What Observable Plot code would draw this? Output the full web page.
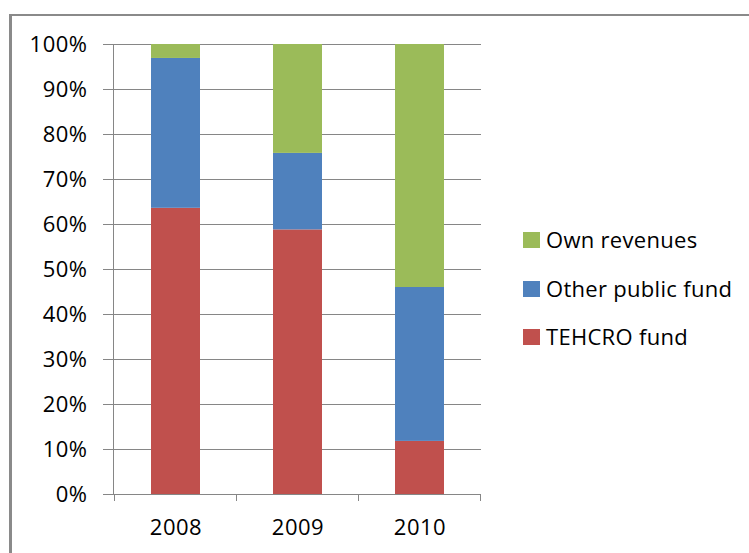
<!DOCTYPE html>
<html>
<head>
<meta charset="utf-8">
<script src="https://cdn.jsdelivr.net/npm/d3@7"></script>
<script src="https://cdn.jsdelivr.net/npm/@observablehq/plot@0.6"></script>
<style>
  html, body { margin: 0; padding: 0; background: #fff; }
  body { width: 749px; height: 553px; position: relative; overflow: hidden; font-family: "Open Sans", "Liberation Sans", sans-serif; }
  #frame { position: absolute; left: 9px; top: 14px; width: 800px; height: 600px; border: 3px solid #8a8a8a; border-width: 2px 0 0 3px; box-sizing: border-box; }
  #chart { position: absolute; left: 0; top: 0; }
  #legend { position: absolute; left: 523px; top: 216px; font-size: 22px; letter-spacing: 0.3px; color: #000; }
  .item { display: flex; align-items: center; height: 48.5px; white-space: nowrap; }
  .sw { width: 17px; height: 16px; margin-right: 6px; flex: none; }
  .item span { line-height: 22px; position: relative; top: -1px; }
</style>
</head>
<body>
<div id="frame"></div>
<div id="chart"></div>
<div id="legend"></div>
<script>
const years = ["2008", "2009", "2010"];
const series = ["TEHCRO fund", "Other public fund", "Own revenues"];
const colors = ["#C0504D", "#4F81BD", "#9BBB59"];
const tehcro = [0.636, 0.588, 0.118];
const otherPublic = [0.333, 0.170, 0.342];
const ownRevenues = [0.031, 0.242, 0.540];
const yTicks = [0, 0.1, 0.2, 0.3, 0.4, 0.5, 0.6, 0.7, 0.8, 0.9, 1];

const valuesBySeries = [tehcro, otherPublic, ownRevenues];
const data = [];
series.forEach((s, i) => years.forEach((y, j) => data.push({year: y, series: s, value: valuesBySeries[i][j]})));

const grey = "#868686";

function boundaryTicks(index, scales, values, dims) {
  const x = scales.x;
  const bw = x.bandwidth ? x.bandwidth() : 0;
  const step = x.step ? x.step() : (x(years[1]) - x(years[0]));
  const gap = (step - bw) / 2;
  const y0 = scales.y(0);
  const g = d3.create("svg:g");
  const bounds = years.map(d => x(d) - gap);
  bounds.push(x(years[years.length - 1]) + bw + gap);
  g.selectAll("line").data(bounds).join("line")
    .attr("x1", d => d).attr("x2", d => d)
    .attr("y1", y0).attr("y2", y0 + 7)
    .attr("stroke", grey).attr("stroke-width", 1);
  return g.node();
}

const chart = Plot.plot({
  width: 749,
  height: 553,
  marginLeft: 113,
  marginRight: 268,
  marginTop: 44,
  marginBottom: 59,
  style: {fontFamily: "\"Open Sans\", sans-serif", fontSize: "22px", color: "#000", background: "transparent", letterSpacing: "0.5px"},
  x: {domain: years, paddingInner: 0.6, paddingOuter: 0.3, label: null},
  y: {domain: [0, 1], label: null},
  color: {domain: series, range: colors},
  marks: [
    Plot.gridY(yTicks, {stroke: grey, strokeOpacity: 1, strokeWidth: 1}),
    Plot.axisY(yTicks, {tickFormat: d3.format(".0%"), tickSize: 10, tickPadding: 16, stroke: grey, fontSize: 22, label: null}),
    Plot.axisX({tickSize: 0, tickPadding: 25, fontSize: 22, label: null}),
    Plot.frame({anchor: "left", stroke: grey}),
    boundaryTicks,
    Plot.barY(data, {x: "year", y: "value", fill: "series", order: series})
  ]
});
document.getElementById("chart").appendChild(chart);

const legend = document.getElementById("legend");
series.slice().reverse().forEach((s) => {
  const item = document.createElement("div");
  item.className = "item";
  const sw = document.createElement("div");
  sw.className = "sw";
  sw.style.background = colors[series.indexOf(s)];
  const t = document.createElement("span");
  t.textContent = s;
  item.appendChild(sw);
  item.appendChild(t);
  legend.appendChild(item);
});
</script>
</body>
</html>
